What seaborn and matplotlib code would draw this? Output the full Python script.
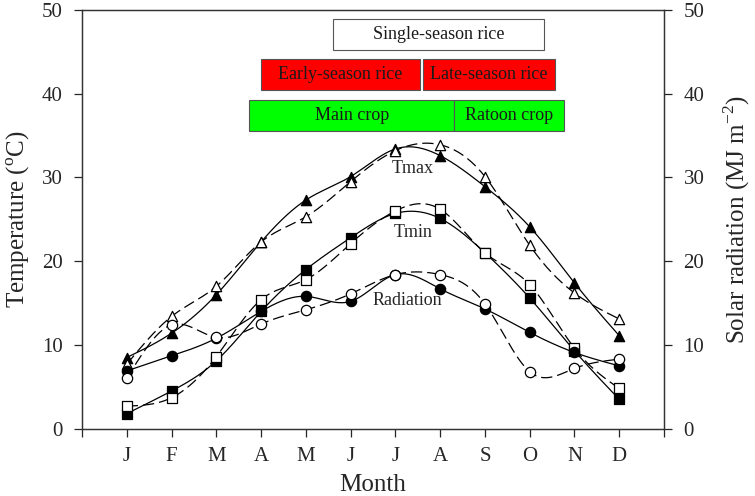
import numpy as np
import pandas as pd
import seaborn as sns
import matplotlib
matplotlib.use("Agg")
import matplotlib.pyplot as plt
from matplotlib.patches import Rectangle

# data
months = ["J", "F", "M", "A", "M", "J", "J", "A", "S", "O", "N", "D"]
month_num = list(range(1, 13))

tmax_a = [8.5, 11.4, 16.0, 22.3, 27.3, 30.1, 33.4, 32.6, 28.9, 24.1, 17.4, 11.1]
tmax_b = [7.7, 13.4, 17.0, 22.3, 25.3, 29.5, 33.2, 33.9, 30.1, 21.9, 16.2, 13.1]
tmin_a = [1.8, 4.5, 8.1, 14.0, 19.0, 22.8, 25.7, 25.1, 21.0, 15.6, 9.3, 3.5]
tmin_b = [2.7, 3.7, 8.6, 15.4, 17.8, 22.1, 26.0, 26.2, 21.0, 17.2, 9.6, 4.8]
rad_a = [6.9, 8.7, 10.8, 14.0, 15.8, 15.2, 18.4, 16.7, 14.3, 11.5, 9.1, 7.5]
rad_b = [6.0, 12.4, 10.9, 12.5, 14.2, 16.1, 18.4, 18.4, 14.9, 6.8, 7.2, 8.3]

# crop calendar boxes: label, start month, end month, bottom, top, colour
box_labels = ["Single-season rice", "Early-season rice", "Late-season rice", "Main crop", "Ratoon crop"]
box_start = [5.6, 4.0, 7.62, 3.74, 8.32]
box_end = [10.32, 7.55, 10.57, 8.32, 10.76]
box_low = [45.2, 40.4, 40.4, 35.6, 35.6]
box_high = [48.9, 44.1, 44.1, 39.3, 39.3]
box_colors = ["white", "#ff0000", "#ff0000", "#00ff00", "#00ff00"]


def smooth(x, y, n=300):
    # natural cubic spline through the points, for the curved lines
    x = np.asarray(x, float)
    y = np.asarray(y, float)
    m = len(x)
    h = np.diff(x)
    A = np.zeros((m, m))
    r = np.zeros(m)
    A[0, 0] = A[-1, -1] = 1
    for i in range(1, m - 1):
        A[i, i - 1] = h[i - 1]
        A[i, i] = 2 * (h[i - 1] + h[i])
        A[i, i + 1] = h[i]
        r[i] = 3 * ((y[i + 1] - y[i]) / h[i] - (y[i] - y[i - 1]) / h[i - 1])
    c = np.linalg.solve(A, r)
    b = np.diff(y) / h - h * (c[1:] + 2 * c[:-1]) / 3
    d = np.diff(c) / (3 * h)
    xs = np.linspace(x[0], x[-1], n)
    idx = np.clip(np.searchsorted(x, xs) - 1, 0, m - 2)
    dx = xs - x[idx]
    ys = y[idx] + b[idx] * dx + c[idx] * dx ** 2 + d[idx] * dx ** 3
    return xs, ys


sns.set_style("ticks")
plt.rcParams["font.family"] = ["Liberation Serif", "DejaVu Serif"]
plt.rcParams["mathtext.fontset"] = "custom"
plt.rcParams["mathtext.rm"] = "Liberation Serif"

fig = plt.figure(figsize=(7.55, 4.96), dpi=100)
ax = fig.add_axes([0.1086, 0.1357, 0.7709, 0.8443])
ax2 = ax.twinx()

dash = (0, (9, 4))
series = [
    (ax, tmax_a, "^", "black", "-"),
    (ax, tmax_b, "^", "white", dash),
    (ax, tmin_a, "s", "black", "-"),
    (ax, tmin_b, "s", "white", dash),
    (ax2, rad_a, "o", "black", "-"),
    (ax2, rad_b, "o", "white", dash),
]
for a, vals, mk, fc, ls in series:
    xs, ys = smooth(month_num, vals)
    sns.lineplot(x=xs, y=ys, ax=a, color="black", linewidth=0.9, linestyle=ls, zorder=2)
    df = pd.DataFrame({"month": month_num, "value": vals})
    sns.scatterplot(data=df, x="month", y="value", ax=a, marker=mk, s=55,
                    color=fc, edgecolor="black", linewidth=0.9, zorder=3)

for lab, x0, x1, y0, y1, col in zip(box_labels, box_start, box_end, box_low, box_high, box_colors):
    ax.add_patch(Rectangle((x0, y0), x1 - x0, y1 - y0, facecolor=col,
                           edgecolor="#555555", linewidth=0.8, zorder=4))
    ax.text((x0 + x1) / 2, (y0 + y1) / 2, lab, ha="center", va="center",
            fontsize=13, color="#1a1a1a", zorder=5)

ax.text(7.39, 31.1, "Tmax", ha="center", va="center", fontsize=13)
ax.text(7.39, 23.4, "Tmin", ha="center", va="center", fontsize=13)
ax.text(7.26, 15.3, "Radiation", ha="center", va="center", fontsize=13)

for a in (ax, ax2):
    a.set_xlim(0, 13)
    a.set_ylim(0, 50)
    a.set_yticks([0, 10, 20, 30, 40, 50])
    a.tick_params(axis="y", labelsize=15, length=6, width=0.9, direction="out", pad=8)
    for sp in a.spines.values():
        sp.set_linewidth(0.9)
        sp.set_color("#333333")

ax.set_xticks(range(0, 14))
ax.set_xticklabels([""] + months + [""])
ax.tick_params(axis="x", labelsize=15, length=6, width=0.9, direction="out", pad=7)
ax.set_xlabel("Month", fontsize=18, labelpad=6)
ax.set_ylabel(r"Temperature ($^{\rm o}$C)", fontsize=18, labelpad=7)
ax2.set_ylabel(r"Solar radiation (MJ m$^{-2}$)", fontsize=18, labelpad=12)
ax2.set_xlabel("")

fig.savefig("out.png", dpi=100)
